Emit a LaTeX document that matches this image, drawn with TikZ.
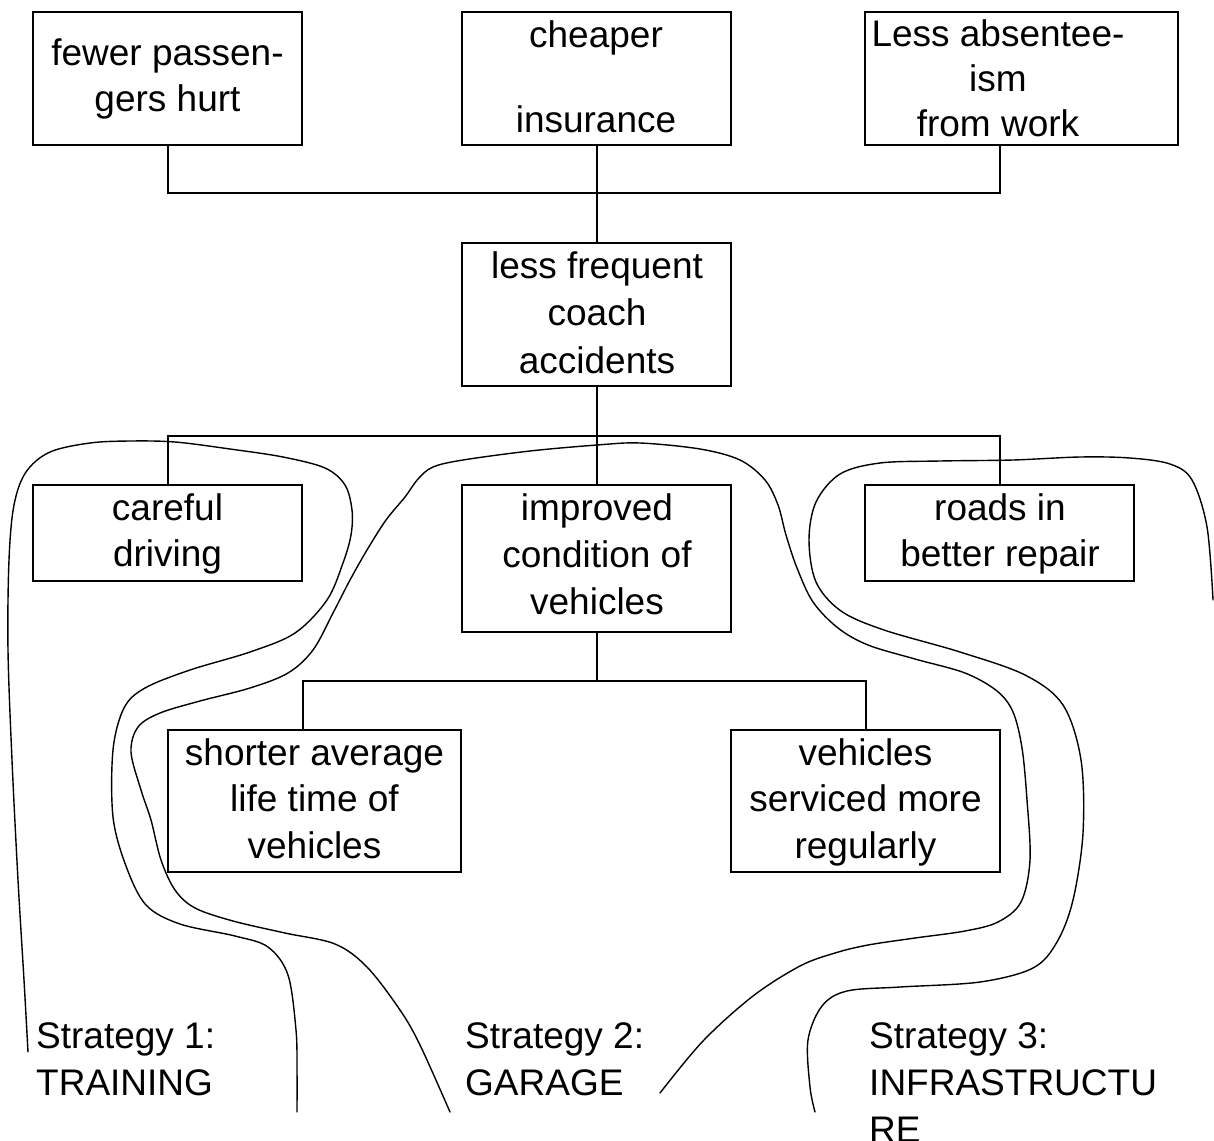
\documentclass[tikz,border=0pt]{standalone}
\usepackage{fontspec}
\setmainfont{Liberation Sans}
\begin{document}
\begin{tikzpicture}[x=1pt,y=-1pt,
  box/.style={draw, line width=2pt, inner sep=0pt},
  link/.style={line width=2pt},
  txt/.style={inner sep=0pt, align=center, anchor=north, font=\fontsize{37}{#1}\selectfont},
  strat/.style={inner sep=0pt, align=left, anchor=north west, font=\fontsize{37}{47}\selectfont},
  bound/.style={line width=1.4pt, line join=round, line cap=round}
]
\useasboundingbox (0,0) rectangle (1214,1140);

% boxes
\node[box, minimum width=269, minimum height=133] (fewer)    at (167.5,78.5) {};
\node[box, minimum width=269, minimum height=133] (cheaper)  at (596.5,78.5) {};
\node[box, minimum width=313, minimum height=133] (absent)   at (1021.5,78.5) {};
\node[box, minimum width=269, minimum height=143] (freq)     at (596.5,314.5) {};
\node[box, minimum width=269, minimum height=96]  (careful)  at (167.5,533) {};
\node[box, minimum width=269, minimum height=147] (improved) at (596.5,558.5) {};
\node[box, minimum width=269, minimum height=96]  (roads)    at (999.5,533) {};
\node[box, minimum width=293, minimum height=142] (shorter)  at (314.5,801) {};
\node[box, minimum width=269, minimum height=142] (serviced) at (865.5,801) {};

% box texts
\node[txt=46]   (tfewer)    at (167.5,32.8)  {\strut fewer passen-\\\strut gers hurt};
\node[txt=42.5] (tcheaper)  at (596,17.25)   {\strut cheaper\\\strut\\\strut insurance};
\node[txt=45]   (tabsent)   at (998,15.2)    {\strut Less absentee-\\\strut ism\\\strut from work};
\node[txt=47.5] (tfreq)     at (597,244.75)  {\strut less frequent\\\strut coach\\\strut accidents};
\node[txt=46]   (tcareful)  at (167.5,487.8) {\strut careful\\\strut driving};
\node[txt=47]   (timproved) at (597,487.1)   {\strut improved\\\strut condition of\\\strut vehicles};
\node[txt=46]   (troads)    at (1000,487.8)  {\strut roads in\\\strut better repair};
\node[txt=46.5] (tshorter)  at (314.5,732.5) {\strut shorter average\\\strut life time of\\\strut vehicles};
\node[txt=46.5] (tserviced) at (865.5,732.5) {\strut vehicles\\\strut serviced more\\\strut regularly};

% strategy labels
\node[strat] (s1) at (36,1015.1)  {\strut Strategy 1:\\\strut TRAINING};
\node[strat] (s2) at (465,1015.1) {\strut Strategy 2:\\\strut GARAGE};
\node[strat] (s3) at (869,1015.1) {\strut Strategy 3:\\\strut INFRASTRUCTU\\\strut RE};

% tree connectors
\coordinate (busT) at (596.5,193);
\coordinate (busM) at (596.5,436);
\coordinate (busL) at (596.5,681);
\coordinate (sTop) at (303,730);
\draw[link] (fewer.south) |- (busT) -| (absent.south -| roads.north);
\draw[link] (cheaper.south) -- (freq.north);
\draw[link] (careful.north) |- (busM) -| (roads.north);
\draw[link] (freq.south) -- (improved.north);
\draw[link] (improved.south) -- (busL);
\draw[link] (sTop) |- (busL) -| (serviced.north);

% strategy 1 boundary
\draw[bound] plot[smooth, tension=0.55] coordinates {
  (28,1052) (24,980) (18,880) (12,760) (8,650) (9,560) (14,505) (26,472)
  (50,452) (90,443) (130,441) (175,442) (230,449) (283,457) (325,468)
  (345,485) (352,510) (351,535) (343,563) (327,600) (295,633) (250,652)
  (190,670) (145,688) (124,708) (113,750) (113,817) (126,866) (146,905)
  (180,924) (235,936) (268,947) (288,975) (296,1030) (297,1070) (297,1112)};

% strategy 2 boundary
\draw[bound] plot[smooth, tension=0.55] coordinates {
  (450,1112) (420,1045) (400,1010) (367,967) (335,944) (285,933) (233,921)
  (195,908) (175,890) (161,860) (151,820) (141,790) (131,752) (138,727)
  (160,713) (200,701) (250,688) (288,673) (313,650) (333,613) (350,580)
  (367,550) (386,520) (405,497) (418,479) (433,467) (463,460) (530,451)
  (597,445) (640,443) (700,449) (740,460) (765,480) (778,505) (786,535)
  (797,568) (813,602) (838,628) (868,645) (915,659) (965,673) (997,691)
  (1013,712) (1022,748) (1027,800) (1030,860) (1021,902) (998,922)
  (965,931) (915,938) (868,945) (835,953) (800,966) (753,996) (703,1041)
  (660,1093)};

% strategy 3 boundary
\draw[bound] plot[smooth, tension=0.55] coordinates {
  (1213,600) (1207,527) (1192,480) (1170,464) (1130,458) (1080,457)
  (1013,460) (940,461) (880,463) (840,474) (816,502) (809,540) (816,582)
  (841,611) (884,630) (960,652) (1025,675) (1063,705) (1081,760)
  (1083,833) (1073,900) (1057,942) (1033,968) (980,982) (900,987)
  (847,991) (822,1006) (808,1040) (810,1087) (815,1112)};
\end{tikzpicture}
\end{document}
